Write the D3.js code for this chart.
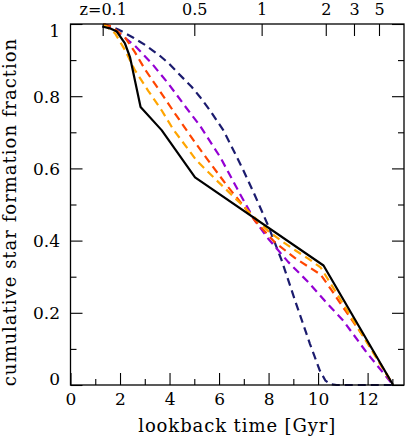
<!DOCTYPE html>
<html>
<head>
<meta charset="utf-8">
<script src="https://cdn.jsdelivr.net/npm/d3@7"></script>
<style>
  html, body { margin: 0; padding: 0; background: #fff; }
  svg { display: block; }
  text { font-family: "DejaVu Serif", serif; fill: #000; }
</style>
</head>
<body>
<svg id="chart" width="407" height="439"></svg>
<script>
// lookback time [Gyr] vs cumulative star formation fraction
const blackT = [1.28, 1.59, 1.87, 2.20, 2.40, 2.83, 3.68, 5.03, 10.22, 13.03];
const blackF = [0.993, 0.988, 0.979, 0.946, 0.909, 0.770, 0.706, 0.575, 0.331, 0];

const orangeT = [1.32, 1.39, 1.80, 2.20, 2.60, 3.14, 3.68, 4.15, 5.09, 5.90, 6.84, 7.45, 7.98, 8.50, 9.06, 9.60, 10.10, 13.03];
const orangeF = [1, 0.997, 0.974, 0.928, 0.872, 0.815, 0.761, 0.708, 0.622, 0.567, 0.505, 0.463, 0.427, 0.400, 0.374, 0.350, 0.326, 0];

const redT = [1.32, 1.66, 2.20, 2.60, 3.01, 3.60, 4.22, 5.00, 5.50, 6.31, 6.98, 7.45, 8.26, 9.06, 10.10, 10.55, 10.88, 11.96, 13.03];
const redF = [1, 0.993, 0.963, 0.922, 0.874, 0.815, 0.752, 0.675, 0.628, 0.553, 0.497, 0.455, 0.395, 0.352, 0.306, 0.262, 0.228, 0.122, 0];

const purpleT = [1.32, 1.80, 2.60, 3.28, 3.95, 4.62, 5.23, 6.04, 6.84, 7.45, 7.98, 8.79, 9.60, 10.34, 11.01, 11.96, 13.03];
const purpleF = [1, 0.983, 0.940, 0.891, 0.835, 0.773, 0.718, 0.632, 0.530, 0.455, 0.406, 0.341, 0.285, 0.228, 0.179, 0.090, 0];

const navyT = [1.32, 1.93, 2.54, 3.01, 3.61, 3.95, 4.89, 5.23, 5.63, 6.17, 6.57, 6.98, 7.45, 7.98, 8.53, 9.06, 9.26, 9.67, 10.07, 10.30, 10.50, 10.75, 13.03];
const navyF = [1, 0.985, 0.962, 0.942, 0.912, 0.892, 0.826, 0.798, 0.761, 0.706, 0.652, 0.595, 0.525, 0.442, 0.345, 0.236, 0.196, 0.114, 0.040, 0.012, 0.002, 0, 0];

// top axis: redshift labels and their lookback times
const zLabels = ["z=0.1", "0.5", "1", "2", "3", "5"];
const zLookback = [1.30, 5.00, 7.72, 10.31, 11.45, 12.46];

const xTicks = [0, 2, 4, 6, 8, 10, 12];
const xMinor = [1, 3, 5, 7, 9, 11, 13];
const yTicks = [0, 0.2, 0.4, 0.6, 0.8, 1];
const yMinor = [0.1, 0.3, 0.5, 0.7, 0.9];

const W = 407, H = 439;
const margin = { top: 24, right: 3, bottom: 54, left: 70.5 };

const svg = d3.select("#chart");

const x = d3.scaleLinear().domain([0, 13.47]).range([margin.left, W - margin.right]);
const y = d3.scaleLinear().domain([0, 1]).range([H - margin.bottom, margin.top]);

const series = [
  { t: navyT, f: navyF, color: "#1b1b6e", dash: "8,5" },
  { t: purpleT, f: purpleF, color: "#9400d3", dash: "8,5" },
  { t: redT, f: redF, color: "#ff4500", dash: "8,5" },
  { t: orangeT, f: orangeF, color: "#ffa500", dash: "8,5" },
  { t: blackT, f: blackF, color: "#000", dash: null },
];

const line = d3.line().x(d => x(d[0])).y(d => y(d[1]));

series.forEach(s => {
  const pts = s.t.map((t, i) => [t, s.f[i]]);
  svg.append("path")
    .datum(pts)
    .attr("fill", "none")
    .attr("stroke", s.color)
    .attr("stroke-width", 2.2)
    .attr("stroke-dasharray", s.dash)
    .attr("stroke-linejoin", "round")
    .attr("d", line);
});

// axes, ticks pointing inwards
const bottom = H - margin.bottom;
const fontSize = 17;

svg.append("g")
  .attr("transform", `translate(0,${bottom})`)
  .call(d3.axisBottom(x).tickValues(xTicks).tickSize(-12).tickPadding(8).tickFormat(d3.format("d")));
svg.append("g")
  .attr("transform", `translate(0,${bottom})`)
  .call(d3.axisBottom(x).tickValues(xMinor).tickSize(-6).tickFormat(""));

const yAxis = svg.append("g")
  .attr("transform", `translate(${margin.left},0)`)
  .call(d3.axisLeft(y).tickValues(yTicks).tickSize(-12).tickPadding(10.5)
    .tickFormat(d => d === 0 || d === 1 ? d3.format("d")(d) : d3.format(".1f")(d)));
svg.append("g")
  .attr("transform", `translate(${margin.left},0)`)
  .call(d3.axisLeft(y).tickValues(yMinor).tickSize(-6).tickFormat(""));

svg.append("g")
  .attr("transform", `translate(${W - margin.right},0)`)
  .call(d3.axisRight(y).tickValues(yTicks).tickSize(-12).tickFormat(""));
svg.append("g")
  .attr("transform", `translate(${W - margin.right},0)`)
  .call(d3.axisRight(y).tickValues(yMinor).tickSize(-6).tickFormat(""));

const zAxis = svg.append("g")
  .attr("transform", `translate(0,${margin.top})`)
  .call(d3.axisTop(x).tickValues(zLookback).tickSize(-12).tickPadding(9).tickFormat((d, i) => zLabels[i]));

svg.selectAll(".domain").remove();
svg.selectAll(".tick line").attr("stroke", "#000").attr("stroke-width", 1.1);
svg.selectAll(".tick text")
  .style("font-family", '"DejaVu Serif", serif')
  .style("font-size", fontSize + "px")
  .attr("fill", "#000");
zAxis.selectAll(".tick text").style("font-size", "16px");

// keep the end labels of the y axis inside the frame
yAxis.selectAll(".tick text")
  .attr("dy", d => d === 1 ? "0.75em" : d === 0 ? "-0.05em" : "0.36em");

// frame
svg.append("rect")
  .attr("x", margin.left)
  .attr("y", margin.top)
  .attr("width", W - margin.right - margin.left)
  .attr("height", bottom - margin.top)
  .attr("fill", "none")
  .attr("stroke", "#000")
  .attr("stroke-width", 1.3);

// axis titles
svg.append("text")
  .attr("x", (margin.left + W - margin.right) / 2)
  .attr("y", 432)
  .attr("text-anchor", "middle")
  .style("font-size", "18px")
  .style("letter-spacing", "0.9px")
  .text("lookback time [Gyr]");

svg.append("text")
  .attr("transform", `translate(16,212) rotate(-90)`)
  .attr("text-anchor", "middle")
  .style("font-size", "18px")
  .style("letter-spacing", "1px")
  .text("cumulative star formation fraction");
</script>
</body>
</html>
